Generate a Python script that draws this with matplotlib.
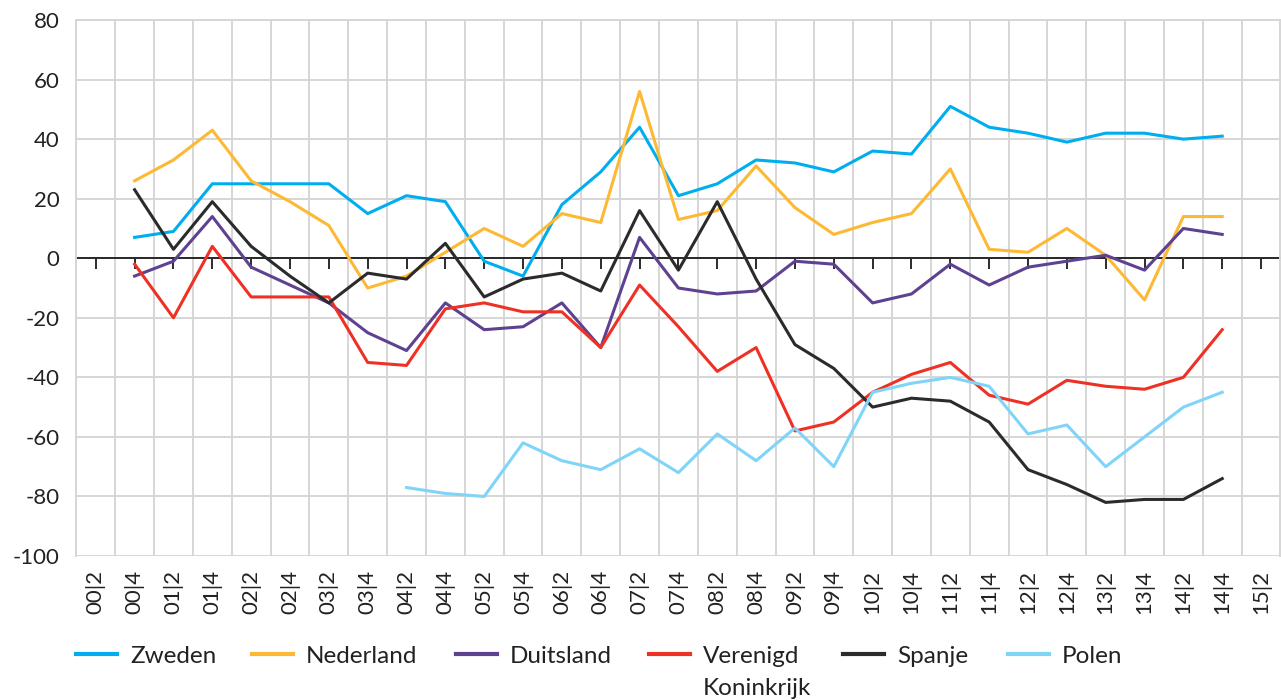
import numpy as np
import matplotlib
matplotlib.use('Agg')
import matplotlib.pyplot as plt
from matplotlib.lines import Line2D

nan = np.nan

# half-year periods, 2000 H2 .. 2015 H2
periods = ['00|2', '00|4', '01|2', '01|4', '02|2', '02|4', '03|2', '03|4',
           '04|2', '04|4', '05|2', '05|4', '06|2', '06|4', '07|2', '07|4',
           '08|2', '08|4', '09|2', '09|4', '10|2', '10|4', '11|2', '11|4',
           '12|2', '12|4', '13|2', '13|4', '14|2', '14|4', '15|2']

zweden = [nan, 7, 9, 25, 25, 25, 25, 15, 21, 19, -1, -6, 18, 29, 44, 21,
          25, 33, 32, 29, 36, 35, 51, 44, 42, 39, 42, 42, 40, 41, nan]
nederland = [nan, 26, 33, 43, 26, 19, 11, -10, -6, 2, 10, 4, 15, 12, 56, 13,
             16, 31, 17, 8, 12, 15, 30, 3, 2, 10, 1, -14, 14, 14, nan]
duitsland = [nan, -6, -1, 14, -3, -9, -15, -25, -31, -15, -24, -23, -15, -30, 7, -10,
             -12, -11, -1, -2, -15, -12, -2, -9, -3, -1, 1, -4, 10, 8, nan]
verenigd_koninkrijk = [nan, -2, -20, 4, -13, -13, -13, -35, -36, -17, -15, -18, -18, -30, -9, -23,
                       -38, -30, -58, -55, -45, -39, -35, -46, -49, -41, -43, -44, -40, -24, nan]
spanje = [nan, 23, 3, 19, 4, -6, -15, -5, -7, 5, -13, -7, -5, -11, 16, -4,
          19, -7, -29, -37, -50, -47, -48, -55, -71, -76, -82, -81, -81, -74, nan]
polen = [nan, nan, nan, nan, nan, nan, nan, nan, -77, -79, -80, -62, -68, -71, -64, -72,
         -59, -68, -57, -70, -45, -42, -40, -43, -59, -56, -70, -60, -50, -45, nan]

series = [
    ('Zweden', zweden, '#00aeef'),
    ('Nederland', nederland, '#fdb933'),
    ('Duitsland', duitsland, '#5e4291'),
    ('Verenigd', verenigd_koninkrijk, '#ee3124'),
    ('Spanje', spanje, '#2b2b2b'),
    ('Polen', polen, '#7fd4f7'),
]
# left edge of each legend entry, in figure pixels
legend_x = [76, 252, 456, 649, 843, 1008]

plt.rcParams['font.family'] = ['Lato', 'DejaVu Sans']
plt.rcParams['font.size'] = 16
plt.rcParams['axes.unicode_minus'] = False

grid_grey = '#d6d6d6'
text_col = '#222222'

W, H = 1281, 700
fig = plt.figure(figsize=(W / 100, H / 100), dpi=100)
ax = fig.add_axes([0.0596, 0.2057, 0.9400, 0.7657])

x = np.arange(len(periods))
for name, vals, col in series:
    ax.plot(x, vals, color=col, lw=2.2, label=name)

ax.set_xlim(-0.5, len(periods) - 0.5)
ax.set_ylim(-100, 80)
ax.set_yticks(range(-100, 81, 20))
ax.tick_params(axis='y', length=0, pad=12, labelsize=16, labelcolor=text_col)

# vertical grid between the periods, horizontal every 20
ax.set_xticks(np.arange(-0.5, len(periods)), minor=True)
ax.grid(True, which='minor', axis='x', color=grid_grey, lw=1.4)
ax.grid(True, which='major', axis='y', color=grid_grey, lw=1.4)
ax.set_axisbelow(True)
ax.tick_params(axis='x', which='minor', length=0)

for side in ['left', 'top', 'right']:
    ax.spines[side].set_color(grid_grey)
    ax.spines[side].set_linewidth(1.4)

# zero line with small ticks hanging below it
ax.spines['bottom'].set_position(('data', 0))
ax.spines['bottom'].set_color('#1a1a1a')
ax.spines['bottom'].set_linewidth(1.3)
ax.spines['bottom'].set_zorder(1.5)
ax.set_xticks(x)
ax.tick_params(axis='x', which='major', direction='out', length=8, width=1.3,
               color='#1a1a1a', labelbottom=False)

# period labels along the bottom of the plot
sec = ax.secondary_xaxis(0)
sec.set_xticks(x, labels=periods)
sec.tick_params(axis='x', length=0, pad=10, labelsize=16, labelcolor=text_col,
                rotation=90)
sec.spines['bottom'].set_visible(False)

# legend: one entry per country, placed side by side
leg_fs = 17.5
fs_px = leg_fs * 100 / 72
texts = []
for (name, vals, col), lx in zip(series, legend_x):
    h = Line2D([], [], color=col, lw=3)
    lg = fig.legend(handles=[h], labels=[name], loc='center left',
                    bbox_to_anchor=(lx / W, 1 - 656 / H), frameon=False,
                    handlelength=41 / fs_px, handletextpad=13 / fs_px,
                    fontsize=leg_fs, borderpad=0, borderaxespad=0)
    for t in lg.get_texts():
        t.set_color(text_col)
        texts.append(t)

fig.canvas.draw()
bb = texts[3].get_window_extent()
fig.text(bb.x0 / W, (bb.y0 - 32) / H, 'Koninkrijk',
         fontsize=leg_fs, color=text_col, ha='left', va='bottom')

fig.savefig('out.png', dpi=100)
